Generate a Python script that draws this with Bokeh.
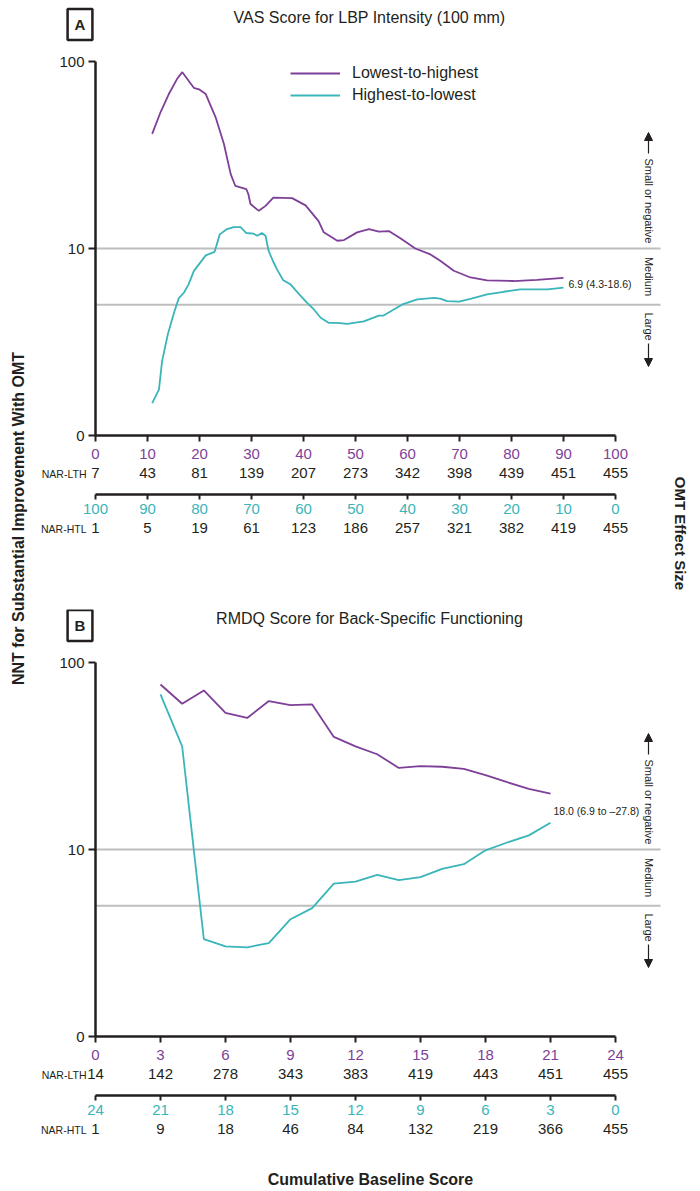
import math
from bokeh.plotting import figure
from bokeh.layouts import row, column
from bokeh.models import (Range1d, LinearAxis, LogAxis, FixedTicker, Label, Legend,
                          LegendItem, Arrow, NormalHead)
from bokeh.embed import file_html
from bokeh.resources import INLINE

FONT = "Liberation Sans"
DARK = "#231f20"
PURPLE = "#7e3f98"
CYAN = "#3ab5b9"
GRAY = "#bcbec0"

# ---------------- data ----------------
y_ticks = [1, 10, 100]
y_tick_labels = ["0", "10", "100"]
ref_lines = [10, 5]
series_names = ["Lowest-to-highest", "Highest-to-lowest"]
effect_labels = ["Small or negative", "Medium", "Large"]
y_axis_title = "NNT for Substantial Improvement With OMT"
right_title = "OMT Effect Size"
x_axis_title = "Cumulative Baseline Score"

# Panel A: VAS score (LTH curve in LTH score, HTL curve in HTL score)
a_title = "VAS Score for LBP Intensity (100 mm)"
a_lth_x = [10.9, 12.5, 14.1, 15.7, 16.7, 18.9, 19.9, 21.2, 23.1, 24.7, 26.0, 26.9,
           29.0, 29.4, 29.8, 31.4, 32.7, 34.2, 37.8, 40.4, 42.9, 43.9, 46.5, 47.8,
           50.3, 52.6, 54.5, 56.4, 58.7, 61.5, 64.4, 66.3, 68.9, 72.1, 75.3, 80.4,
           84.9, 90.0]
a_lth_y = [41, 53.5, 67, 80.8, 87.7, 72.3, 71, 67, 50.3, 36.2, 25, 21.6,
           20.8, 19.5, 17.3, 15.9, 16.9, 18.7, 18.6, 17.0, 14.0, 12.2, 11.0, 11.1,
           12.2, 12.7, 12.3, 12.4, 11.3, 10.0, 9.3, 8.6, 7.6, 7.0, 6.76, 6.7,
           6.8, 6.97]
a_htl_x = [89.1, 87.8, 87.2, 86.1, 84.9, 84.0, 83.0, 82.1, 81.1, 78.8, 77.1, 76.1,
           74.7, 73.4, 72.1, 71.0, 69.6, 68.9, 68.0, 67.3, 66.7, 65.9, 65.1, 63.9,
           62.5, 60.9, 59.3, 58.0, 56.7, 55.1, 53.5, 51.6, 48.4, 45.5, 44.6, 41.0,
           38.1, 34.9, 33.7, 32.4, 30.1, 27.9, 24.7, 21.5, 18.3, 13.1, 10.0]
a_htl_y = [1.49, 1.76, 2.49, 3.47, 4.53, 5.41, 5.8, 6.43, 7.57, 9.19, 9.6, 11.9,
           12.7, 13.0, 13.0, 12.1, 12.0, 11.7, 12.1, 11.7, 9.7, 8.6, 7.73, 6.76,
           6.43, 5.72, 5.12, 4.72, 4.26, 4.0, 4.0, 3.95, 4.08, 4.38, 4.38, 5.02,
           5.34, 5.45, 5.4, 5.23, 5.2, 5.38, 5.68, 5.87, 6.04, 6.04, 6.17]
a_ticks = [0, 10, 20, 30, 40, 50, 60, 70, 80, 90, 100]
a_nar_lth = [7, 43, 81, 139, 207, 273, 342, 398, 439, 451, 455]
a_htl_ticks = [100, 90, 80, 70, 60, 50, 40, 30, 20, 10, 0]
a_nar_htl = [1, 5, 19, 61, 123, 186, 257, 321, 382, 419, 455]
a_end_label = "6.9 (4.3-18.6)"

# Panel B: RMDQ score
b_title = "RMDQ Score for Back-Specific Functioning"
b_lth_x = [3, 4, 5, 6, 7, 8, 9, 10, 11, 12, 13, 14, 15, 16, 17, 18, 19, 20, 21]
b_lth_y = [76.3, 60.2, 70.9, 53.7, 50.5, 62.2, 59.2, 59.7, 40.0, 35.6, 32.3, 27.3,
           27.9, 27.7, 27.0, 25.0, 22.9, 21.1, 19.9]
b_htl_x = [21, 20, 19, 18, 17, 16, 15, 14, 13, 12, 11, 10, 9, 8, 7, 6, 5, 4, 3]
b_htl_y = [67.5, 35.6, 3.32, 3.03, 3.0, 3.16, 4.24, 4.86, 6.57, 6.74, 7.31, 6.85,
           7.11, 7.87, 8.34, 9.9, 10.9, 11.9, 13.9]
b_ticks = [0, 3, 6, 9, 12, 15, 18, 21, 24]
b_nar_lth = [14, 142, 278, 343, 383, 419, 443, 451, 455]
b_htl_ticks = [24, 21, 18, 15, 12, 9, 6, 3, 0]
b_nar_htl = [1, 9, 18, 46, 84, 132, 219, 366, 455]
b_end_label = "18.0 (6.9 to \u201327.8)"

# ---------------- layout constants (page pixels) ----------------
LEFT_W = 36          # width of the strip holding the shared y title
FIG_W = 660          # width of each panel figure
AX_X0 = 95           # page x of x = 0
AX_LEN = 520         # page length of the x axis
REF_X_END = 660      # page x where the reference lines stop
DECADE = 187.0       # px per decade on the NNT axis
TOTAL_H = 1188


def lab(p, text, x, y, size="11px", align="left", baseline="middle", angle=0.0,
        bold=False, color=DARK, **kw):
    p.add_layout(Label(x=x, y=y, x_units="screen", y_units="screen", text=text,
                       text_font=FONT, text_font_size=size, text_align=align,
                       text_baseline=baseline, angle=angle, text_color=color,
                       text_font_style="bold" if bold else "normal", **kw))


def axis_style(ax, color=DARK, line=True, tick_out=6, standoff=4, size="15px"):
    ax.major_label_text_font = FONT
    ax.major_label_text_font_size = size
    ax.major_label_text_color = color
    ax.minor_tick_line_color = None
    ax.major_label_standoff = standoff
    if line:
        ax.axis_line_width = 2.5
        ax.axis_line_color = DARK
        ax.major_tick_line_width = 2
        ax.major_tick_line_color = DARK
        ax.major_tick_out = tick_out
        ax.major_tick_in = 0
    else:
        ax.axis_line_color = None
        ax.major_tick_line_color = None
        ax.major_tick_out = 0
        ax.major_tick_in = 0


def panel(top, height, y100, letter, title, x_max, ticks, nar_lth, htl_ticks, nar_htl,
          lth_x, lth_y, htl_x, htl_y, end_label, end_px, legend):
    # page geometry -> data ranges
    y1 = y100 + 2 * DECADE
    ppu = AX_LEN / x_max
    x_start = -(AX_X0 - LEFT_W) / ppu
    x_end = (LEFT_W + FIG_W - AX_X0) / ppu
    log_top = 2 + (y100 - top) / DECADE
    log_bot = -(top + height - y1) / DECADE

    def sx(px):
        return px - LEFT_W

    def sy(py):
        return top + height - py

    p = figure(width=FIG_W, height=height, x_range=Range1d(x_start, x_end),
               y_range=Range1d(10 ** log_bot, 10 ** log_top), y_axis_type="log",
               x_axis_location=None, y_axis_location=None, toolbar_location=None,
               output_backend="svg", min_border=0, outline_line_color=None)
    p.extra_x_ranges = {"htl": Range1d(x_max - x_start, x_max - x_end)}
    p.grid.visible = False

    yax = LogAxis(fixed_location=0, bounds=(1, 100), ticker=FixedTicker(ticks=y_ticks),
                  major_label_overrides=dict(zip(y_ticks, y_tick_labels)))
    axis_style(yax, tick_out=7, standoff=4, size="15px")
    p.add_layout(yax, "left")

    htl_line = 10 ** (-59 / DECADE)
    ax1 = LinearAxis(ticker=FixedTicker(ticks=ticks), bounds=(0, x_max), fixed_location=1)
    axis_style(ax1, color=PURPLE, tick_out=6, standoff=7)
    ax2 = LinearAxis(ticker=FixedTicker(ticks=ticks), fixed_location=1,
                     major_label_overrides={t: str(n) for t, n in zip(ticks, nar_lth)})
    axis_style(ax2, line=False, standoff=32)
    ax3 = LinearAxis(x_range_name="htl", ticker=FixedTicker(ticks=htl_ticks),
                     bounds=(0, x_max), fixed_location=htl_line)
    axis_style(ax3, color=CYAN, tick_out=5, standoff=4)
    ax4 = LinearAxis(x_range_name="htl", ticker=FixedTicker(ticks=htl_ticks),
                     fixed_location=htl_line,
                     major_label_overrides={t: str(n) for t, n in zip(htl_ticks, nar_htl)})
    axis_style(ax4, line=False, standoff=28)
    for ax in (ax1, ax2, ax3, ax4):
        p.add_layout(ax, "below")

    ref_end = (REF_X_END - AX_X0) / ppu
    p.segment(x0=[0] * len(ref_lines), y0=ref_lines, x1=[ref_end] * len(ref_lines),
              y1=ref_lines, line_color=GRAY, line_width=2)

    r1 = p.line(lth_x, lth_y, line_color=PURPLE, line_width=1.8)
    r2 = p.line(htl_x, htl_y, line_color=CYAN, line_width=1.8, x_range_name="htl")

    if legend:
        leg = Legend(items=[LegendItem(label=series_names[0], renderers=[r1]),
                            LegendItem(label=series_names[1], renderers=[r2])],
                     location=(sx(290), sy(y100 + 43.7)), orientation="vertical",
                     glyph_width=50, glyph_height=20, label_height=20, label_standoff=12,
                     spacing=2, padding=0, margin=0, border_line_color=None,
                     background_fill_alpha=0, label_text_font=FONT,
                     label_text_font_size="16px", label_text_color=DARK)
        p.add_layout(leg)

    # panel letter box and title
    lab(p, letter, sx(79.5), sy(y100 - 37), size="15px", align="center", bold=True,
        border_line_color=DARK, border_line_width=2.5, padding=7)
    lab(p, title, sx(369), sy(y100 - 44), size="16px", align="center")

    # effect size side labels
    xs = sx(648)

    def head():
        return NormalHead(size=8, fill_color=DARK, line_color=DARK, line_width=1)

    p.add_layout(Arrow(end=head(), x_start=xs, y_start=sy(y100 + 92), x_end=xs,
                       y_end=sy(y100 + 71), start_units="screen", end_units="screen",
                       line_color=DARK, line_width=1.2))
    p.add_layout(Arrow(end=head(), x_start=xs, y_start=sy(y100 + 282), x_end=xs,
                       y_end=sy(y100 + 305), start_units="screen", end_units="screen",
                       line_color=DARK, line_width=1.2))
    lab(p, effect_labels[0], xs, sy(y100 + 97), align="left", angle=-math.pi / 2)
    lab(p, effect_labels[1], xs, sy(y100 + 215), align="center", angle=-math.pi / 2)
    lab(p, effect_labels[2], xs, sy(y100 + 251), align="left", angle=-math.pi / 2)

    lab(p, end_label, sx(end_px[0]), sy(y100 + end_px[1]), size="10.5px", align="left")

    # row captions for the numbers at risk
    lab(p, "NAR-LTH", sx(86), sy(y1 + 38), size="10.5px", align="right")
    lab(p, "NAR-HTL", sx(86), sy(y1 + 93), size="10.5px", align="right")
    return p, sx, sy


pa, sxa, sya = panel(0, 609, 61, "A", a_title, 100, a_ticks, a_nar_lth, a_htl_ticks,
                     a_nar_htl, a_lth_x, a_lth_y, a_htl_x, a_htl_y, a_end_label,
                     (568, 222), legend=True)
lab(pa, right_title, sxa(680), sya(533), size="15px", align="center", bold=True,
    angle=-math.pi / 2)

pb, sxb, syb = panel(609, TOTAL_H - 609, 662, "B", b_title, 24, b_ticks, b_nar_lth,
                     b_htl_ticks, b_nar_htl, b_lth_x, b_lth_y, b_htl_x, b_htl_y,
                     b_end_label, (553, 148), legend=False)
lab(pb, x_axis_title, sxb(370), syb(1179), size="16px", align="center", bold=True)

left = figure(width=LEFT_W, height=TOTAL_H, x_range=Range1d(0, 1), y_range=Range1d(0, 1),
              toolbar_location=None, output_backend="svg", x_axis_location=None,
              y_axis_location=None, min_border=0, outline_line_color=None)
left.grid.visible = False
lab(left, y_axis_title, 18, TOTAL_H - 518, size="16px", align="center", bold=True,
    angle=math.pi / 2)

layout = row(left, column(pa, pb))
open("out.html", "w").write(file_html(layout, INLINE))
